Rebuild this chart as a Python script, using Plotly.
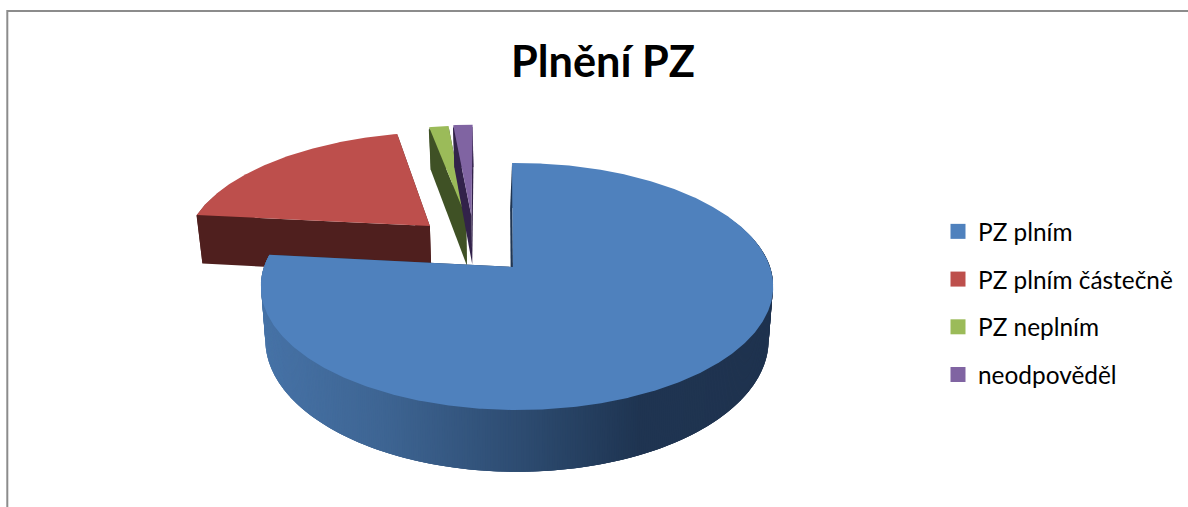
import numpy as np
import plotly.graph_objects as go

# --- data ---
title_text = "Plnění PZ"
categories = ["PZ plním", "PZ plním částečně", "PZ neplním", "neodpověděl"]
values = [77.0, 20.0, 1.5, 1.5]
top_colors = ["#4F81BD", "#BD4F4C", "#9BBB59", "#8064A2"]
cut_colors = ["#1F3552", "#4F1F1E", "#3F5125", "#32224A"]

# --- projection of the tilted pie (perspective scale) ---
X0, Y0 = 517.0, 267.0
RX, RY = 253.0, 120.4
PERSP = 0.158
DEPTH = 52.0
DEPTH_SHRINK = 0.018
START_DEG = -1.3
TUCK = 0.03
# displacement of each exploded slice, in pie radii (right, back)
explode = [(0.0, 0.0), (-0.364, 0.360), (-0.2157, 0.444), (-0.193, 0.454)]
apex_nudge = [(-0.016, 0.0), (0, 0), (0, 0), (0, 0)]
cut_dx = [-2.0, 0.0, 0.0, 0.0]
# gradient of the outer wall of the large slice, by screen position
grad_x = [262, 383, 526, 640, 775]
grad_rgb = [(0x47, 0x73, 0xA7), (0x3E, 0x65, 0x93), (0x2D, 0x4B, 0x70), (0x1F, 0x35, 0x52), (0x1F, 0x33, 0x4F)]


def project(u, v, z=0.0):
    u, v = np.asarray(u, float), np.asarray(v, float)
    w = 1 + PERSP * v
    x = X0 + RX * u / w * (1 - DEPTH_SHRINK * z)
    y = Y0 - RY * v / w + DEPTH * z / w
    return x, y


def poly(xs, ys, color):
    return go.Scatter(x=list(xs), y=list(ys), mode="lines", fill="toself", fillcolor=color,
                      line=dict(color=color, width=0), hoverinfo="skip", showlegend=False)


fig = go.Figure()
shares = np.array(values) / sum(values) * 360
starts = START_DEG + np.concatenate([[0], np.cumsum(shares)[:-1]])

for i in [1, 2, 3, 0]:
    a0, a1 = np.radians(starts[i]), np.radians(starts[i] + shares[i])
    th = np.linspace(a0, a1, max(int(np.degrees(a1 - a0) * 2), 6))
    cu, cv = explode[i]
    ru, rv = cu + np.sin(th), cv + np.cos(th)
    iu, iv = ru, rv - TUCK * np.cos(th)  # upper wall edge tucked under the top face
    au, av = cu + apex_nudge[i][0], cv + apex_nudge[i][1]

    # end cut, outer wall, start cut, top: back to front
    xa, ya = project([au, ru[-1]], [av, rv[-1]])
    xb, yb = project([au, ru[-1]], [av, rv[-1]], 1)
    fig.add_trace(poly(np.r_[xa, xb[::-1]], np.r_[ya, yb[::-1]], cut_colors[i]))

    if i == 0:
        # overlapping strips, so no seams show between colour steps
        for j in range(0, len(th) - 1):
            k = min(j + 4, len(th))
            xt, yt = project(iu[j:k], iv[j:k])
            xb, yb = project(ru[j:k], rv[j:k], 1)
            mx = project(ru[j:j + 2], rv[j:j + 2])[0].mean()
            rgb = [np.interp(mx, grad_x, [c[n] for c in grad_rgb]) for n in range(3)]
            col = "rgb(%d,%d,%d)" % tuple(rgb)
            fig.add_trace(poly(np.r_[xt, xb[::-1]], np.r_[yt, yb[::-1]], col))
    else:
        xt, yt = project(iu, iv)
        xb, yb = project(ru, rv, 1)
        fig.add_trace(poly(np.r_[xt, xb[::-1]], np.r_[yt, yb[::-1]], cut_colors[i]))

    xa, ya = project([au, ru[0]], [av, rv[0]])
    xb, yb = project([au, ru[0]], [av, rv[0]], 1)
    fig.add_trace(poly(np.r_[xa, xb[::-1] + cut_dx[i]], np.r_[ya, yb[::-1]], cut_colors[i]))

    xt, yt = project(np.r_[au, ru, au], np.r_[av, rv, av])
    fig.add_trace(poly(xt, yt, top_colors[i]))

# legend entries
for name, col in zip(categories, top_colors):
    fig.add_trace(go.Scatter(x=[None], y=[None], mode="markers", name=name, legendgroup=name,
                             marker=dict(symbol="square", size=15, color=col)))

fig.update_layout(
    width=1188, height=507, margin=dict(l=0, r=0, t=0, b=0),
    paper_bgcolor="white", plot_bgcolor="white",
    xaxis=dict(range=[0, 1188], visible=False, fixedrange=True),
    yaxis=dict(range=[507, 0], visible=False, fixedrange=True),
    title=dict(text="<b>%s</b>" % title_text, x=603 / 1188, y=1 - 62 / 507, xanchor="center", yanchor="middle",
               font=dict(family="Lato", size=43.3, color="black")),
    legend=dict(x=938 / 1188, y=1 - 303 / 507, xanchor="left", yanchor="middle",
                font=dict(family="Lato", size=24.4, color="black"),
                tracegroupgap=13, bgcolor="rgba(0,0,0,0)", itemclick=False, itemdoubleclick=False),
    shapes=[
        dict(type="line", x0=7, x1=1188, y0=11, y1=11, line=dict(color="#8C8C8C", width=2)),
        dict(type="line", x0=7.3, x1=7.3, y0=10, y1=507, line=dict(color="#8C8C8C", width=2)),
    ],
)
fig.write_html("out.html", config={"displayModeBar": False},
               post_script="document.body.style.margin='0';document.body.style.overflow='hidden';")
